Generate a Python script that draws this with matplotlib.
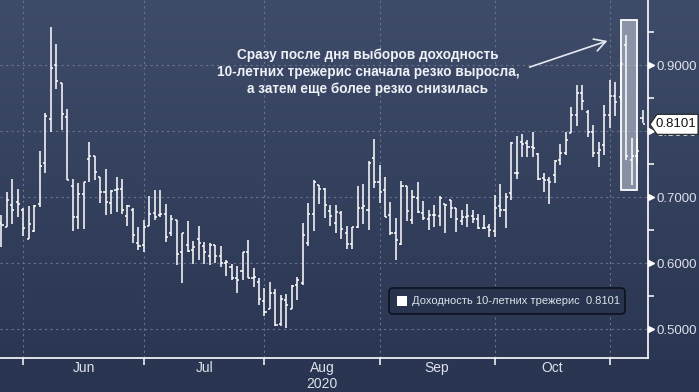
import numpy as np
import pandas as pd
import matplotlib
matplotlib.use("Agg")
import matplotlib.pyplot as plt
from matplotlib.patches import Rectangle, FancyBboxPatch, Polygon
from matplotlib.transforms import IdentityTransform, blended_transform_factory, offset_copy

# ---------------- data ----------------
holidays = ["2020-07-03", "2020-09-07", "2020-10-12"]
dates = pd.bdate_range("2020-05-26", periods=130)
dates = dates[~dates.isin(pd.to_datetime(holidays))][:118]

opens = [0.660, 0.654, 0.688, 0.693, 0.681, 0.637, 0.648, 0.690, 0.752, 0.818,
         0.900, 0.872, 0.821, 0.717, 0.669, 0.705, 0.757, 0.762, 0.730, 0.707,
         0.691, 0.711, 0.712, 0.671, 0.681, 0.630, 0.628, 0.656, 0.676, 0.673,
         0.674, 0.645, 0.665, 0.616, 0.627, 0.620, 0.636, 0.626, 0.611, 0.627,
         0.611, 0.600, 0.594, 0.577, 0.588, 0.616, 0.578, 0.572, 0.542, 0.531,
         0.555, 0.508, 0.544, 0.531, 0.567, 0.570, 0.631, 0.675, 0.718, 0.712,
         0.679, 0.661, 0.676, 0.646, 0.629, 0.655, 0.683, 0.681, 0.759, 0.722,
         0.710, 0.673, 0.645, 0.629, 0.717, 0.665, 0.698, 0.676, 0.666, 0.672,
         0.671, 0.689, 0.695, 0.683, 0.663, 0.670, 0.671, 0.666, 0.653, 0.655,
         0.649, 0.686, 0.680, 0.706, 0.736, 0.783, 0.782, 0.776, 0.765, 0.729,
         0.726, 0.734, 0.756, 0.766, 0.797, 0.824, 0.857, 0.829, 0.799, 0.767,
         0.779, 0.824, 0.853, 0.852, 0.930, 0.756, 0.762, 0.819]
highs = [0.673, 0.707, 0.728, 0.712, 0.683, 0.686, 0.688, 0.770, 0.828, 0.958,
         0.932, 0.872, 0.833, 0.728, 0.721, 0.722, 0.783, 0.762, 0.730, 0.742,
         0.710, 0.730, 0.727, 0.688, 0.683, 0.654, 0.665, 0.702, 0.711, 0.711,
         0.689, 0.673, 0.665, 0.645, 0.664, 0.634, 0.656, 0.632, 0.630, 0.628,
         0.626, 0.605, 0.598, 0.595, 0.616, 0.635, 0.592, 0.577, 0.562, 0.571,
         0.560, 0.551, 0.553, 0.567, 0.579, 0.661, 0.691, 0.726, 0.718, 0.713,
         0.688, 0.688, 0.679, 0.656, 0.655, 0.716, 0.720, 0.755, 0.788, 0.748,
         0.731, 0.693, 0.668, 0.725, 0.717, 0.710, 0.723, 0.694, 0.681, 0.688,
         0.701, 0.690, 0.696, 0.684, 0.680, 0.690, 0.681, 0.675, 0.673, 0.659,
         0.703, 0.720, 0.706, 0.784, 0.792, 0.796, 0.786, 0.799, 0.766, 0.736,
         0.731, 0.756, 0.780, 0.799, 0.837, 0.870, 0.870, 0.832, 0.809, 0.784,
         0.839, 0.877, 0.875, 0.905, 0.945, 0.789, 0.790, 0.832]
lows = [0.625, 0.654, 0.659, 0.670, 0.641, 0.637, 0.647, 0.685, 0.736, 0.799,
        0.863, 0.802, 0.726, 0.649, 0.652, 0.652, 0.723, 0.726, 0.691, 0.673,
        0.674, 0.678, 0.675, 0.656, 0.631, 0.620, 0.617, 0.656, 0.665, 0.669,
        0.632, 0.641, 0.597, 0.569, 0.616, 0.598, 0.605, 0.599, 0.597, 0.600,
        0.594, 0.580, 0.574, 0.555, 0.575, 0.577, 0.564, 0.536, 0.519, 0.531,
        0.504, 0.505, 0.501, 0.531, 0.544, 0.567, 0.626, 0.649, 0.689, 0.668,
        0.656, 0.646, 0.637, 0.622, 0.621, 0.653, 0.659, 0.650, 0.713, 0.691,
        0.670, 0.642, 0.605, 0.627, 0.664, 0.659, 0.676, 0.665, 0.650, 0.655,
        0.656, 0.646, 0.668, 0.647, 0.658, 0.655, 0.660, 0.651, 0.651, 0.640,
        0.640, 0.669, 0.653, 0.696, 0.728, 0.761, 0.761, 0.761, 0.726, 0.708,
        0.690, 0.721, 0.749, 0.764, 0.797, 0.807, 0.832, 0.791, 0.761, 0.746,
        0.764, 0.804, 0.823, 0.845, 0.756, 0.718, 0.750, 0.812]
closes = [0.658, 0.695, 0.681, 0.690, 0.653, 0.659, 0.686, 0.747, 0.823, 0.896,
          0.876, 0.826, 0.726, 0.669, 0.705, 0.722, 0.762, 0.738, 0.708, 0.693,
          0.709, 0.712, 0.680, 0.686, 0.642, 0.626, 0.655, 0.674, 0.669, 0.674,
          0.640, 0.666, 0.613, 0.645, 0.618, 0.625, 0.631, 0.616, 0.627, 0.611,
          0.600, 0.602, 0.578, 0.575, 0.616, 0.578, 0.579, 0.545, 0.526, 0.555,
          0.506, 0.545, 0.536, 0.565, 0.575, 0.642, 0.675, 0.722, 0.712, 0.688,
          0.671, 0.678, 0.651, 0.629, 0.654, 0.683, 0.686, 0.752, 0.722, 0.707,
          0.670, 0.646, 0.635, 0.717, 0.679, 0.700, 0.678, 0.668, 0.673, 0.673,
          0.698, 0.688, 0.684, 0.666, 0.670, 0.671, 0.666, 0.653, 0.653, 0.650,
          0.684, 0.680, 0.700, 0.782, 0.737, 0.780, 0.776, 0.775, 0.728, 0.726,
          0.722, 0.755, 0.767, 0.786, 0.824, 0.857, 0.845, 0.799, 0.767, 0.771,
          0.824, 0.853, 0.844, 0.902, 0.762, 0.762, 0.770, 0.8101]

yticks = [0.5, 0.6, 0.7, 0.8, 0.9]
month_names = ["Jun", "Jul", "Aug", "Sep", "Oct"]
series_name = "Доходность 10-летних трежерис"
last_value = closes[-1]
note = ("Сразу после дня выборов доходность\n"
        "10-летних трежерис сначала резко выросла,\n"
        "а затем еще более резко снизилась")

# ---------------- figure ----------------
W, H = 699, 392
fig = plt.figure(figsize=(W / 100, H / 100), dpi=100)

# gradient background
bg = fig.add_axes([0, 0, 1, 1], zorder=-10)
top = np.array([63, 76, 105]) / 255
bot = np.array([40, 52, 80]) / 255
t = np.linspace(0, 1, 256)[:, None]
grad = top * (1 - t) + bot * t
bg.imshow(grad[:, None, :].repeat(2, axis=1), aspect="auto", extent=[0, 1, 0, 1])
bg.set_axis_off()

ax_h = 358
ax = fig.add_axes([0, (H - ax_h) / H, 648 / W, ax_h / H])
ax.patch.set_alpha(0)

x = np.arange(len(dates))
ax.set_xlim(-0.26, 117.99)
ax.set_ylim(0.4561, 0.9985)

# gridlines
grid_col = "#66748f"
month_start = [i for i in range(1, len(dates)) if dates[i].month != dates[i - 1].month]
for m in month_start:
    ax.axvline(m, color=grid_col, lw=0.8, ls=(0, (2, 3)), zorder=1)
for yv in yticks:
    ax.axhline(yv, color=grid_col, lw=0.8, ls=(0, (2, 3)), zorder=1)

# highlight box (election)
box_lo, box_hi = 113.07, 116.07
ax.add_patch(Rectangle((box_lo, 0.711), box_hi - box_lo, 0.968 - 0.711,
                       facecolor=(0.80, 0.82, 0.87), alpha=0.55, edgecolor="none", zorder=2))

# OHLC bars
w = 0.38
ax.vlines(x, lows, highs, color="white", lw=1.1, zorder=3)
ax.hlines(opens, x - w, x, color="white", lw=1.1, zorder=3)
ax.hlines(closes, x, x + w, color="white", lw=1.1, zorder=3)

ax.add_patch(Rectangle((box_lo, 0.711), box_hi - box_lo, 0.968 - 0.711,
                       facecolor="none", edgecolor="white", lw=1.3, zorder=4))

# spines
for s in ["top", "left"]:
    ax.spines[s].set_visible(False)
for s in ["right", "bottom"]:
    ax.spines[s].set_color("white")
    ax.spines[s].set_linewidth(1.2)

label_col = "#dde2ea"
tfont = "Liberation Sans"
ax.yaxis.tick_right()
ax.set_yticks(yticks)
ax.set_yticklabels([f"{v:.4f}" for v in yticks], fontsize=9.5, color=label_col, family=tfont)
ax.set_yticks([v + 0.05 for v in [0.45] + yticks], minor=True)
ax.tick_params(axis="y", which="major", length=0, pad=6)
ax.tick_params(axis="y", which="minor", length=4.5, width=1.1, color="white", direction="out")
# triangular major tick markers, base on the spine
tr = offset_copy(blended_transform_factory(ax.transAxes, ax.transData), fig=fig,
                 x=2.5, y=0, units="dots")
ax.plot([1.0] * len(yticks), yticks, marker=">", ls="none", ms=4.0, color="white",
        transform=tr, clip_on=False, zorder=6)

# x axis
ax.set_xticks(month_start)
ax.set_xticklabels([])
mids = [(month_start[i] + month_start[i + 1]) / 2 for i in range(len(month_start) - 1)]
ax.set_xticks(mids, minor=True)
ax.set_xticklabels(month_names, minor=True, fontsize=10, color=label_col, family=tfont)
ax.tick_params(axis="x", which="major", length=5, width=1.1, color="white", direction="out")
ax.tick_params(axis="x", which="minor", length=0, pad=2)
fig.text(322 / W, 1 - 384 / H, "2020", ha="center", va="center", fontsize=10,
         color=label_col, family=tfont)

# annotation text and arrow
ax.text(368 / 648, 1 - 72 / ax_h, note, transform=ax.transAxes, ha="center", va="center",
        fontsize=9.8, fontweight="bold", color="#eef1f6", family=tfont, linespacing=1.25)
ax.annotate("", xy=(610 / 648, 1 - 40 / ax_h), xytext=(527 / 648, 1 - 68 / ax_h),
            xycoords="axes fraction", textcoords="axes fraction",
            arrowprops=dict(arrowstyle="->,head_length=0.8,head_width=0.45",
                            color="#e6e9f0", lw=1.2))

# legend box
idt = IdentityTransform()
leg = FancyBboxPatch((389, H - 314), 236, 26, boxstyle="round,pad=0,rounding_size=4",
                     facecolor="#28334d", edgecolor="#0d1220", lw=1.2, transform=idt, zorder=7)
fig.add_artist(leg)
fig.add_artist(Rectangle((397, H - 306), 10, 10, facecolor="white", edgecolor="none",
                         transform=idt, zorder=8))
fig.text(412 / W, 1 - 301.5 / H, f"{series_name}  {last_value:.4f}", ha="left", va="center",
         fontsize=8.0, color=label_col, family=tfont, zorder=8)

# last value label
yl = 65 + (0.9 - last_value) * 660
poly = Polygon([(650, H - yl), (657, H - yl + 10), (698, H - yl + 10), (698, H - yl - 10),
                (657, H - yl - 10)], closed=True, facecolor="white", edgecolor="#222222",
               lw=0.8, transform=idt, zorder=9)
fig.add_artist(poly)
fig.text(656 / W, 1 - yl / H, f"{last_value:.4f}", ha="left", va="center",
         fontsize=9.5, color="#111111", family=tfont, zorder=10)

fig.savefig("out.png", dpi=100)
